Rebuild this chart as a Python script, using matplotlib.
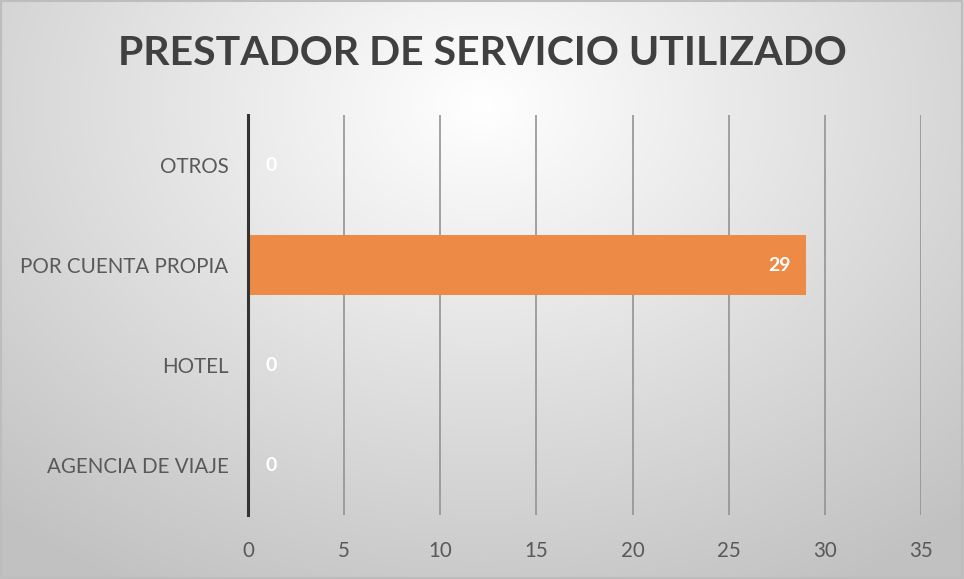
import numpy as np
import matplotlib.pyplot as plt

plt.rcParams['font.family'] = ['Lato', 'DejaVu Sans']

categorias = ['AGENCIA DE VIAJE', 'HOTEL', 'POR CUENTA PROPIA', 'OTROS']
valores = [0, 0, 29, 0]

fig = plt.figure(figsize=(9.64, 5.79), dpi=100)

# fondo con degradado radial
bg = fig.add_axes([0, 0, 1, 1], zorder=-10)
yy, xx = np.mgrid[0:1:300j, 0:1:500j]
r = np.sqrt(((xx - 0.5) / 0.75) ** 2 + ((yy - 0.82) / 0.95) ** 2)
r = np.clip(r, 0, 1)
g = 1.0 - 0.24 * r
bg.imshow(np.dstack([g, g, g]), extent=[0, 1, 0, 1], aspect='auto', origin='lower')
bg.add_patch(plt.Rectangle((0.001, 0.002), 0.997, 0.996, fill=False, ec='#bdbdbd', lw=1.5))
bg.axis('off')

ax = fig.add_axes([0.2573, 0.1105, 0.6981, 0.6905])
ax.patch.set_alpha(0)
y = np.arange(len(categorias))
ax.barh(y, valores, height=0.6, color='#ED8A45', zorder=3)
ax.set_xlim(0, 35)
ax.set_ylim(-0.5, 3.5)
ax.set_xticks(range(0, 36, 5))
ax.set_yticks(y)
ax.set_yticklabels(categorias)
ax.grid(axis='x', color='#939393', lw=1.2, zorder=0)
for s in ['top', 'right', 'bottom']:
    ax.spines[s].set_visible(False)
ax.spines['left'].set_color('#333333')
ax.spines['left'].set_linewidth(2.2)
ax.spines['left'].set_zorder(4)
ax.tick_params(length=0, labelsize=14.8, colors='#595959')
ax.tick_params(axis='y', pad=14)
ax.tick_params(axis='x', pad=19)

for yi, v in zip(y, valores):
    if v > 0:
        ax.text(v - 0.75, yi, str(v), ha='right', va='center', color='white',
                fontsize=14, fontweight='bold', zorder=5)
    else:
        ax.text(1.2, yi, str(v), ha='center', va='center', color='white',
                fontsize=14, fontweight='bold', zorder=5)

fig.text(0.5, 0.907, 'PRESTADOR DE SERVICIO UTILIZADO', ha='center', va='center',
         fontsize=29.5, fontweight='bold', color='#404040')

fig.savefig('out.png', dpi=100)
